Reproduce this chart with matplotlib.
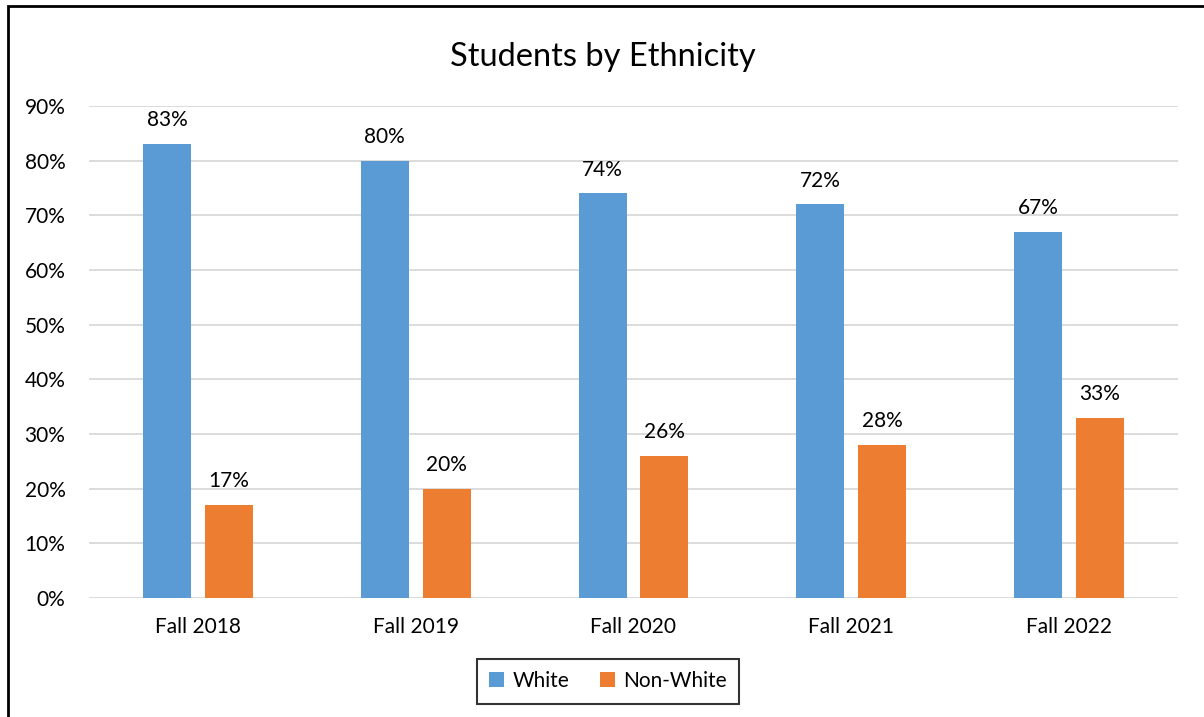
import numpy as np
import matplotlib.pyplot as plt
from matplotlib.patches import Rectangle

# Chart data
categories = ['Fall 2018', 'Fall 2019', 'Fall 2020', 'Fall 2021', 'Fall 2022']
white = [83, 80, 74, 72, 67]
non_white = [17, 20, 26, 28, 33]

plt.rcParams['font.family'] = ['Lato', 'DejaVu Sans']

fig = plt.figure(figsize=(12.04, 7.17), dpi=100)
ax = fig.add_axes([89/1204, 1 - 598/717, (1178 - 89)/1204, (598 - 106)/717])

x = np.arange(len(categories))
w = 0.22
off = 0.142
b1 = ax.bar(x - off, white, w, color='#5B9BD5', label='White', zorder=3)
b2 = ax.bar(x + off, non_white, w, color='#ED7D31', label='Non-White', zorder=3)

for bars, vals in ((b1, white), (b2, non_white)):
    for r, v in zip(bars, vals):
        ax.annotate(f'{v}%', (r.get_x() + r.get_width()/2, v), xytext=(0, 10),
                    textcoords='offset points', ha='center', va='bottom', fontsize=15)

ax.set_xlim(-0.5, len(categories) - 0.5)
ax.set_ylim(0, 90)
ax.set_yticks(range(0, 91, 10))
ax.set_yticklabels([f'{t}%' for t in range(0, 91, 10)])
ax.set_xticks(x)
ax.set_xticklabels(categories)
ax.tick_params(axis='both', length=0, labelsize=15)
ax.tick_params(axis='y', pad=17)
ax.tick_params(axis='x', pad=14)
ax.grid(axis='y', color='#D9D9D9', linewidth=1.3, zorder=0)
for s in ax.spines.values():
    s.set_visible(False)

fig.text(603/1204, 1 - 57/717, 'Students by Ethnicity', ha='center', va='center', fontsize=23.5)

leg = ax.legend(loc='center', bbox_to_anchor=(608/1204, 1 - 681/717),
                bbox_transform=fig.transFigure, ncol=2, fontsize=15,
                frameon=True, fancybox=False, edgecolor='black',
                handlelength=0.7, handleheight=0.7, handletextpad=0.4,
                columnspacing=1.5, borderpad=0.6)
leg.get_frame().set_linewidth(1.5)

# outer border (only left and top visible in the reference)
fig.patches.append(Rectangle((8/1204, -0.1), 1.2, 1 - 6/717 + 0.1, transform=fig.transFigure,
                             fill=False, edgecolor='black', linewidth=2))

fig.savefig('out.png', dpi=100)
